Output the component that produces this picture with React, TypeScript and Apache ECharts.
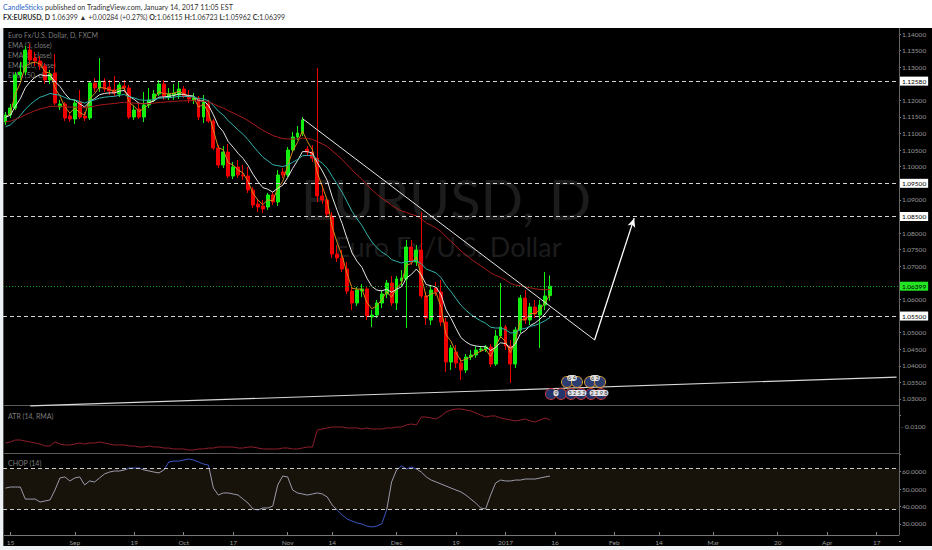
import React, { useEffect, useRef } from 'react';
import * as echarts from 'echarts';

// ---------- axis categories (trading days) ----------
const firstDay = '2016-08-12';
const lastDay = '2017-04-21';
function weekdayList(a: string, b: string): string[] {
  const out: string[] = [];
  const d = new Date(a + 'T00:00:00Z');
  const e = new Date(b + 'T00:00:00Z');
  while (d <= e) {
    const w = d.getUTCDay();
    if (w !== 0 && w !== 6) out.push(d.toISOString().slice(0, 10));
    d.setUTCDate(d.getUTCDate() + 1);
  }
  return out;
}
const categories = weekdayList(firstDay, lastDay);

const xTicks: [string, string][] = [
  ['2016-08-15', '15'], ['2016-09-01', 'Sep'], ['2016-09-19', '19'], ['2016-10-03', 'Oct'],
  ['2016-10-17', '17'], ['2016-11-01', 'Nov'], ['2016-11-14', '14'], ['2016-12-01', 'Dec'],
  ['2016-12-19', '19'], ['2017-01-02', '2017'], ['2017-01-16', '16'], ['2017-02-01', 'Feb'],
  ['2017-02-14', '14'], ['2017-03-01', 'Mar'], ['2017-03-20', '20'], ['2017-04-03', 'Apr'],
  ['2017-04-17', '17'],
];

// ---------- OHLC: [open, close, low, high] ----------
const candles: number[][] = [
  [1.11348, 1.11559, 1.11257, 1.11649],
  [1.11559, 1.11770, 1.11468, 1.11890],
  [1.11770, 1.12764, 1.11709, 1.12855],
  [1.12764, 1.12855, 1.12614, 1.13156],
  [1.12855, 1.13518, 1.12764, 1.13638],
  [1.13518, 1.13216, 1.13126, 1.13699],
  [1.13277, 1.13186, 1.13036, 1.13458],
  [1.13186, 1.13036, 1.12915, 1.13337],
  [1.13036, 1.12614, 1.12493, 1.13126],
  [1.12614, 1.12794, 1.12493, 1.12915],
  [1.12825, 1.11920, 1.11860, 1.13397],
  [1.11800, 1.11890, 1.11709, 1.12011],
  [1.11890, 1.11468, 1.11378, 1.11950],
  [1.11529, 1.11438, 1.11348, 1.11649],
  [1.11438, 1.11920, 1.11287, 1.12011],
  [1.11950, 1.11498, 1.11438, 1.12312],
  [1.11529, 1.11468, 1.11378, 1.11649],
  [1.11468, 1.12523, 1.11408, 1.12583],
  [1.12523, 1.12372, 1.12252, 1.12674],
  [1.12372, 1.12583, 1.12252, 1.13277],
  [1.12583, 1.12342, 1.12252, 1.12674],
  [1.12403, 1.12282, 1.12161, 1.12614],
  [1.12312, 1.12222, 1.12131, 1.12734],
  [1.12192, 1.12463, 1.12101, 1.12553],
  [1.12433, 1.12372, 1.12252, 1.12614],
  [1.12372, 1.11498, 1.11438, 1.12463],
  [1.11498, 1.11709, 1.11408, 1.11830],
  [1.11740, 1.11498, 1.11438, 1.11890],
  [1.11498, 1.11860, 1.11348, 1.12252],
  [1.11860, 1.12011, 1.11770, 1.12372],
  [1.12041, 1.12192, 1.11950, 1.12312],
  [1.12192, 1.12493, 1.12131, 1.12614],
  [1.12493, 1.12131, 1.12011, 1.12614],
  [1.12101, 1.12192, 1.12011, 1.12372],
  [1.12161, 1.12222, 1.12011, 1.12493],
  [1.12161, 1.12342, 1.12041, 1.12553],
  [1.12342, 1.12131, 1.12071, 1.12433],
  [1.12131, 1.12041, 1.11920, 1.12312],
  [1.12011, 1.12071, 1.11890, 1.12222],
  [1.12071, 1.11498, 1.11408, 1.12131],
  [1.11498, 1.11981, 1.11318, 1.12161],
  [1.11890, 1.11378, 1.11318, 1.12011],
  [1.11378, 1.10564, 1.10504, 1.11438],
  [1.10564, 1.10052, 1.09961, 1.10655],
  [1.10052, 1.10444, 1.09961, 1.10624],
  [1.10444, 1.09720, 1.09660, 1.10685],
  [1.09720, 1.09992, 1.09630, 1.10142],
  [1.09992, 1.09750, 1.09660, 1.10202],
  [1.09750, 1.09720, 1.09600, 1.10052],
  [1.09720, 1.09298, 1.09208, 1.09992],
  [1.09298, 1.08846, 1.08756, 1.09389],
  [1.08876, 1.08786, 1.08635, 1.08997],
  [1.08816, 1.08726, 1.08605, 1.08997],
  [1.08786, 1.09148, 1.08696, 1.09208],
  [1.09148, 1.08937, 1.08846, 1.09238],
  [1.08937, 1.09750, 1.08816, 1.09901],
  [1.09841, 1.09750, 1.09660, 1.09961],
  [1.09750, 1.10504, 1.09690, 1.10594],
  [1.10504, 1.10896, 1.10444, 1.11046],
  [1.10896, 1.11016, 1.10805, 1.11227],
  [1.11016, 1.11408, 1.10926, 1.11498],
  [1.10534, 1.10444, 1.10323, 1.10624],
  [1.10444, 1.10263, 1.10142, 1.10655],
  [1.10263, 1.09117, 1.08937, 1.12975],
  [1.09117, 1.08997, 1.08876, 1.09449],
  [1.08997, 1.08575, 1.08454, 1.09057],
  [1.08515, 1.07369, 1.07249, 1.08635],
  [1.07369, 1.07249, 1.07128, 1.07641],
  [1.07249, 1.06917, 1.06827, 1.07490],
  [1.06917, 1.06254, 1.06164, 1.07128],
  [1.06254, 1.05893, 1.05682, 1.06435],
  [1.05893, 1.06284, 1.05802, 1.06375],
  [1.06254, 1.06315, 1.06073, 1.06465],
  [1.06315, 1.05501, 1.05380, 1.06405],
  [1.05471, 1.05531, 1.05169, 1.05682],
  [1.05531, 1.05893, 1.05441, 1.05983],
  [1.05893, 1.06164, 1.05742, 1.06284],
  [1.06164, 1.06495, 1.06043, 1.06586],
  [1.06495, 1.05893, 1.05802, 1.06706],
  [1.05893, 1.06616, 1.05682, 1.06706],
  [1.06556, 1.06646, 1.06405, 1.06887],
  [1.06616, 1.07580, 1.05139, 1.07791],
  [1.07580, 1.07128, 1.07038, 1.07791],
  [1.07128, 1.07490, 1.07008, 1.07641],
  [1.07490, 1.06104, 1.06043, 1.08635],
  [1.06104, 1.05441, 1.05230, 1.06224],
  [1.05380, 1.06284, 1.05230, 1.06435],
  [1.06345, 1.06224, 1.06104, 1.06525],
  [1.06224, 1.05320, 1.05199, 1.06586],
  [1.05320, 1.04114, 1.03813, 1.05441],
  [1.04114, 1.04536, 1.03873, 1.04627],
  [1.04416, 1.04084, 1.03934, 1.04627],
  [1.04084, 1.03873, 1.03572, 1.04235],
  [1.03873, 1.04265, 1.03783, 1.04356],
  [1.04265, 1.04325, 1.04175, 1.04476],
  [1.04325, 1.04476, 1.04235, 1.04597],
  [1.04476, 1.04506, 1.04416, 1.04597],
  [1.04506, 1.04567, 1.04416, 1.04627],
  [1.04567, 1.04054, 1.03964, 1.04657],
  [1.04054, 1.04898, 1.03994, 1.05079],
  [1.04898, 1.05169, 1.04838, 1.06495],
  [1.05169, 1.04597, 1.04476, 1.05230],
  [1.04597, 1.04054, 1.03482, 1.04777],
  [1.04054, 1.05079, 1.03934, 1.05169],
  [1.05079, 1.06043, 1.04988, 1.06134],
  [1.06043, 1.05380, 1.05260, 1.06284],
  [1.05380, 1.05772, 1.05230, 1.05893],
  [1.05772, 1.05561, 1.05441, 1.05983],
  [1.05531, 1.05832, 1.04536, 1.05983],
  [1.05832, 1.06104, 1.05682, 1.06827],
  [1.06115, 1.06399, 1.05962, 1.06723],
];

// ---------- EMA settings (periods from legend, starting values read at left edge) ----------
const emaPeriods = [3, 8, 20, 50];
const emaSeeds = [1.1140, 1.1147, 1.1117, 1.1135];

// ---------- ATR (14, RMA) ----------
const atrValues = [
  0.00750, 0.00765, 0.00794, 0.00794, 0.00779,
  0.00765, 0.00750, 0.00735, 0.00706, 0.00706, 0.00765,
  0.00735, 0.00721, 0.00721, 0.00735, 0.00750, 0.00735, 0.00750, 0.00750, 0.00765, 0.00750,
  0.00735, 0.00721, 0.00721, 0.00721, 0.00706, 0.00706, 0.00691, 0.00691, 0.00706, 0.00691,
  0.00691, 0.00676, 0.00676, 0.00662, 0.00662, 0.00662, 0.00647, 0.00647, 0.00662, 0.00662,
  0.00676, 0.00676, 0.00691, 0.00691, 0.00691, 0.00691, 0.00676, 0.00676, 0.00691, 0.00691,
  0.00676, 0.00662, 0.00662, 0.00662, 0.00662, 0.00676, 0.00676, 0.00662, 0.00662, 0.00676,
  0.00691, 0.00691, 0.00941, 0.00956, 0.00971,
  0.00985, 0.00985, 0.00985, 0.00971, 0.00971, 0.00971, 0.00956, 0.00971, 0.00956, 0.00956,
  0.00956, 0.00971, 0.00971, 0.00985, 0.00985,
  0.01015, 0.01029, 0.01015, 0.01132, 0.01132, 0.01118, 0.01103, 0.01147, 0.01206, 0.01235,
  0.01250, 0.01250, 0.01235, 0.01221, 0.01191, 0.01162, 0.01132, 0.01147, 0.01147, 0.01118,
  0.01103, 0.01088, 0.01074, 0.01088, 0.01103, 0.01074, 0.01059, 0.01088, 0.01118, 0.01088,
];

// ---------- CHOP (14) ----------
const chopValues = [
  50.6, 51.2, 51.2, 51.2, 44.3, 44.3, 44.3, 42.6, 43.2, 43.8, 49.5,
  56.4, 57, 54.7, 56.4, 57, 52.4, 54.7, 54.1, 56.4, 58.7,
  59.8, 60.4, 60.4, 61, 62.1, 62.1, 62.1, 61, 60.4, 59.8,
  59.3, 61, 65.6, 66.1, 66.1, 66.7, 67.3, 66.7, 65.6, 64.4,
  63.8, 50.6, 46.6, 47.8, 47.8, 47.2, 46.6, 44.3, 42, 38.6,
  38, 39.2, 39.2, 40.3, 52.4, 57.5, 57, 49.5, 47.8, 47.2,
  46.6, 47.2, 47.8, 47.2, 45.5, 40.9, 38, 35.2, 32.9, 31.7,
  30.6, 30, 28.8, 28.3, 28.8, 30, 38, 54.1, 61, 63.3,
  61.6, 62.7, 61.6, 59.8, 57, 55.2, 54.1, 52.9, 51.8, 50.6,
  49.5, 48.4, 46.6, 44.3, 42, 39.2, 38.6, 46.6, 53.5, 55.2,
  54.7, 54.7, 55.2, 55.2, 55.8, 55.8, 55.8, 56.4, 57, 57.5,
];
const chopBands = [61.8, 38.2];

// ---------- drawn levels and lines ----------
const levels = [1.1258, 1.095, 1.085, 1.055];
const lastPrice = 1.06399;
const downTrend: [string, number][] = [['2016-11-04', 1.1145], ['2017-01-26', 1.0478]];
const upTrend: [string, number][] = [['2016-08-19', 1.0279], ['2017-04-21', 1.0366]];
const arrowLine: [string, number][] = [['2017-01-26', 1.0478], ['2017-02-07', 1.0845]];

const FONT = 'Lato, "Open Sans", sans-serif';

function emaSeries(period: number, seed: number): number[] {
  const a = 2 / (period + 1);
  let e = seed;
  return candles.map((c) => {
    e = a * c[1] + (1 - a) * e;
    return +e.toFixed(5);
  });
}

export default function App() {
  const ref = useRef<HTMLDivElement>(null);
  useEffect(() => {
    if (!ref.current) return;
    const chart = echarts.init(ref.current, null, { renderer: 'svg', width: 932, height: 550 });
    const tickMap: Record<string, string> = {};
    xTicks.forEach(([d, l]) => (tickMap[d] = l));
    const tickFn = (_i: number, v: string) => tickMap[v] !== undefined;
    const boxed = [...levels, lastPrice];
    const emaColors = ['#d58a1c', '#e6e6e6', '#2fb3ad', '#a81b1b'];

    const levelLabel = (txt: string, bg: string) => ({
      show: true, position: 'end', formatter: txt, backgroundColor: bg, color: '#000',
      padding: [1, 2, 1, 2], fontSize: 6.5, fontFamily: FONT, distance: 1,
    });

    const mainLines: any[] = levels.map((v) => ({
      yAxis: v,
      lineStyle: { color: '#d5d5d5', type: [4, 3], width: 1 },
      label: levelLabel(v.toFixed(5), '#ffffff'),
    }));
    mainLines.push({
      yAxis: lastPrice,
      lineStyle: { color: '#1f9e1f', type: [1, 2], width: 1 },
      label: levelLabel(lastPrice.toFixed(5), '#22e622'),
    });
    mainLines.push([
      { coord: downTrend[0], lineStyle: { color: '#e8e8e8', width: 1, type: 'solid' } },
      { coord: downTrend[1] },
    ]);
    mainLines.push([
      { coord: upTrend[0], lineStyle: { color: '#d8d8d8', width: 1.2, type: 'solid' } },
      { coord: upTrend[1] },
    ]);
    mainLines.push([
      { coord: arrowLine[0], symbol: 'none', lineStyle: { color: '#ffffff', width: 1.3, type: 'solid' } },
      { coord: arrowLine[1], symbol: 'arrow', symbolSize: [6, 9] },
    ]);

    const markerCircles: any[] = [];
    [567, 577, 590, 600].forEach((cx) =>
      markerCircles.push({ type: 'circle', shape: { cx, cy: 382, r: 5.5 }, style: { fill: '#2b3c70', stroke: '#e0a23a', lineWidth: 1 }, z: 6 }));
    [551, 561, 571, 581, 591, 601].forEach((cx) =>
      markerCircles.push({ type: 'circle', shape: { cx, cy: 394, r: 5.5 }, style: { fill: '#22346a', stroke: '#d23a3a', lineWidth: 1 }, z: 6 }));
    const tag = (x: number, y: number, t: string) => ({
      type: 'text', x, y, z: 7,
      style: { text: t, fill: '#333', fontSize: 5.5, fontFamily: FONT, align: 'center', verticalAlign: 'middle',
        backgroundColor: 'rgba(245,245,245,0.9)', borderRadius: 3, padding: [0, 1] },
    });
    markerCircles.push(tag(572, 378, '6 4'), tag(595, 378, '6 3'), tag(556, 393, '9'), tag(577, 393, '3 2 5 2'), tag(599, 393, '2 2 9 8'));

    const legendText = (y: number, t: string) => ({
      type: 'text', x: 8, y, z: 1,
      style: { text: t, fill: '#7c7c7c', fontSize: 7, fontFamily: FONT, verticalAlign: 'middle' },
    });

    const option: any = {
      animation: false,
      backgroundColor: '#000000',
      textStyle: { fontFamily: FONT },
      grid: [
        { left: 3, right: 33, top: 17.41, height: 398.18 },
        { left: 3, right: 33, top: 392, height: 68 },
        { left: 3, right: 33, top: 454.27, height: 87.15 },
        { left: 3, right: 33, top: 534, height: 1 },
      ],
      xAxis: [0, 1, 2, 3].map((i) => ({
        type: 'category', gridIndex: i, data: categories, boundaryGap: true, show: i === 3,
        axisLine: { show: true, lineStyle: { color: '#777' } },
        axisTick: { show: true, inside: true, length: 3, interval: tickFn, alignWithLabel: true, lineStyle: { color: '#888' } },
        axisLabel: {
          interval: tickFn, formatter: (v: string) => tickMap[v] || '', color: '#9a9a9a',
          fontSize: 6.5, margin: 4, fontFamily: FONT,
        },
        splitLine: { show: false },
      })),
      yAxis: [
        {
          type: 'value', gridIndex: 0, position: 'right', min: 1.025, max: 1.145, interval: 0.005,
          splitLine: { show: false }, axisLine: { show: false },
          axisTick: { show: true, length: 2, lineStyle: { color: '#888' } },
          axisLabel: {
            color: '#9a9a9a', fontSize: 6.5, margin: 3, fontFamily: FONT,
            formatter: (v: number) => {
              if (v > 1.1401 || v < 1.0299) return '';
              if (boxed.some((b) => Math.abs(b - v) < 0.0019)) return '';
              return v.toFixed(5);
            },
          },
        },
        {
          type: 'value', gridIndex: 1, position: 'right', min: 0.005, max: 0.015, interval: 0.005,
          splitLine: { show: false }, axisLine: { show: false }, axisTick: { show: false },
          axisLabel: {
            color: '#9a9a9a', fontSize: 6.5, margin: 2, fontFamily: FONT,
            formatter: (v: number) => (Math.abs(v - 0.01) < 1e-6 ? '- 0.0100' : ''),
          },
        },
        {
          type: 'value', gridIndex: 2, position: 'right', min: 20, max: 70, interval: 10,
          splitLine: { show: false }, axisLine: { show: false },
          axisTick: { show: true, length: 2, lineStyle: { color: '#888' } },
          axisLabel: {
            color: '#9a9a9a', fontSize: 6.5, margin: 3, fontFamily: FONT,
            formatter: (v: number) => (v >= 29 && v <= 61 ? v.toFixed(4) : ''),
          },
        },
        { type: 'value', gridIndex: 3, show: false },
      ],
      visualMap: {
        show: false, type: 'piecewise', seriesIndex: 6, dimension: 1,
        pieces: [
          { gt: chopBands[0], color: '#3d55c4' },
          { lt: chopBands[1], color: '#3d55c4' },
          { gte: chopBands[1], lte: chopBands[0], color: '#9a9aaa' },
        ],
      },
      series: [
        {
          type: 'candlestick', name: 'EURUSD', xAxisIndex: 0, yAxisIndex: 0, data: candles, barWidth: 3.4, z: 2,
          itemStyle: { color: '#12f012', color0: '#f00000', borderColor: '#12f012', borderColor0: '#f00000', borderWidth: 1 },
          markLine: { silent: true, symbol: 'none', animation: false, precision: 5, label: { show: false }, data: mainLines },
        },
        ...emaPeriods.map((p, i) => ({
          type: 'line', name: 'EMA ' + p, xAxisIndex: 0, yAxisIndex: 0, data: emaSeries(p, emaSeeds[i]),
          showSymbol: false, symbol: 'none', z: 3,
          lineStyle: { color: emaColors[i], width: 1 },
        })),
        {
          type: 'line', name: 'ATR', xAxisIndex: 1, yAxisIndex: 1, data: atrValues, showSymbol: false, symbol: 'none',
          lineStyle: { color: '#8e1f2b', width: 1 },
        },
        {
          type: 'line', name: 'CHOP', xAxisIndex: 2, yAxisIndex: 2, data: chopValues, showSymbol: false, symbol: 'none',
          lineStyle: { width: 1 },
          markArea: { silent: true, itemStyle: { color: '#17120a' }, data: [[{ yAxis: chopBands[1] }, { yAxis: chopBands[0] }]] },
          markLine: {
            silent: true, symbol: 'none', precision: 2, label: { show: false },
            lineStyle: { color: '#c8c8c8', type: [4, 3], width: 1 },
            data: chopBands.map((b) => ({ yAxis: b })),
          },
        },
      ],
      graphic: [
        // watermark
        { type: 'text', x: 446, y: 198, z: 0, style: { text: 'EURUSD, D', fill: '#1c1c1c', fontSize: 56, fontFamily: FONT, align: 'center', verticalAlign: 'middle' } },
        { type: 'text', x: 448, y: 246, z: 0, style: { text: 'Euro Fx/U.S. Dollar', fill: '#1c1c1c', fontSize: 27, fontFamily: FONT, align: 'center', verticalAlign: 'middle' } },
        // legends
        legendText(35, 'Euro Fx/U.S. Dollar, D, FXCM'),
        legendText(45, 'EMA (3, close)'),
        legendText(55, 'EMA (8, close)'),
        legendText(65, 'EMA (20, close)'),
        legendText(75, 'EMA (50, close)'),
        legendText(416, 'ATR (14, RMA)'),
        legendText(463, 'CHOP (14)'),
        // pane separators and frame
        { type: 'line', z: 5, shape: { x1: 3, y1: 405.5, x2: 899, y2: 405.5 }, style: { stroke: '#5c5c5c', lineWidth: 1 } },
        { type: 'line', z: 5, shape: { x1: 3, y1: 453.5, x2: 899, y2: 453.5 }, style: { stroke: '#5c5c5c', lineWidth: 1 } },
        { type: 'line', z: 5, shape: { x1: 899.5, y1: 28, x2: 899.5, y2: 535 }, style: { stroke: '#666', lineWidth: 1 } },
        { type: 'line', z: 5, shape: { x1: 3.5, y1: 28, x2: 3.5, y2: 546 }, style: { stroke: '#555', lineWidth: 1 } },
        ...markerCircles,
        // header and page margins
        { type: 'rect', z: 100, shape: { x: 0, y: 0, width: 932, height: 28 }, style: { fill: '#ffffff' } },
        { type: 'rect', z: 100, shape: { x: 0, y: 28, width: 3, height: 522 }, style: { fill: '#eef1f4' } },
        { type: 'rect', z: 100, shape: { x: 0, y: 546, width: 932, height: 4 }, style: { fill: '#eef1f4' } },
        {
          type: 'text', x: 3, y: 7, z: 101,
          style: {
            text: '{a|CandleSticks}{b| published on TradingView.com, January 14, 2017 11:05 EST}',
            fontSize: 7, fontFamily: FONT, verticalAlign: 'middle',
            rich: {
              a: { fill: '#2a68c8', color: '#2a68c8', fontSize: 7.2, fontFamily: FONT },
              b: { fill: '#333', color: '#333', fontSize: 7.2, fontFamily: FONT },
            },
          },
        },
        {
          type: 'text', x: 3, y: 17, z: 101,
          style: {
            text: '{k|FX:EURUSD, D} {n|1.06399} {g|▲} {n|+0.00284 (+0.27%)} {k|O:}{g|1.06115} {k|H:}{g|1.06723} {k|L:}{g|1.05962} {k|C:}{g|1.06399}',
            fontSize: 7, fontFamily: FONT, verticalAlign: 'middle', fill: '#333',
            rich: {
              k: { color: '#1a1a1a', fontWeight: 'bold', fontSize: 7, fontFamily: FONT },
              n: { color: '#333', fontSize: 7, fontFamily: FONT },
              g: { color: '#36b146', fontSize: 7, fontFamily: FONT },
            },
          },
        },
      ],
    };
    chart.setOption(option);
    return () => chart.dispose();
  }, []);
  return <div ref={ref} style={{ position: 'fixed', left: 0, top: 0, width: 932, height: 550 }} />;
}
